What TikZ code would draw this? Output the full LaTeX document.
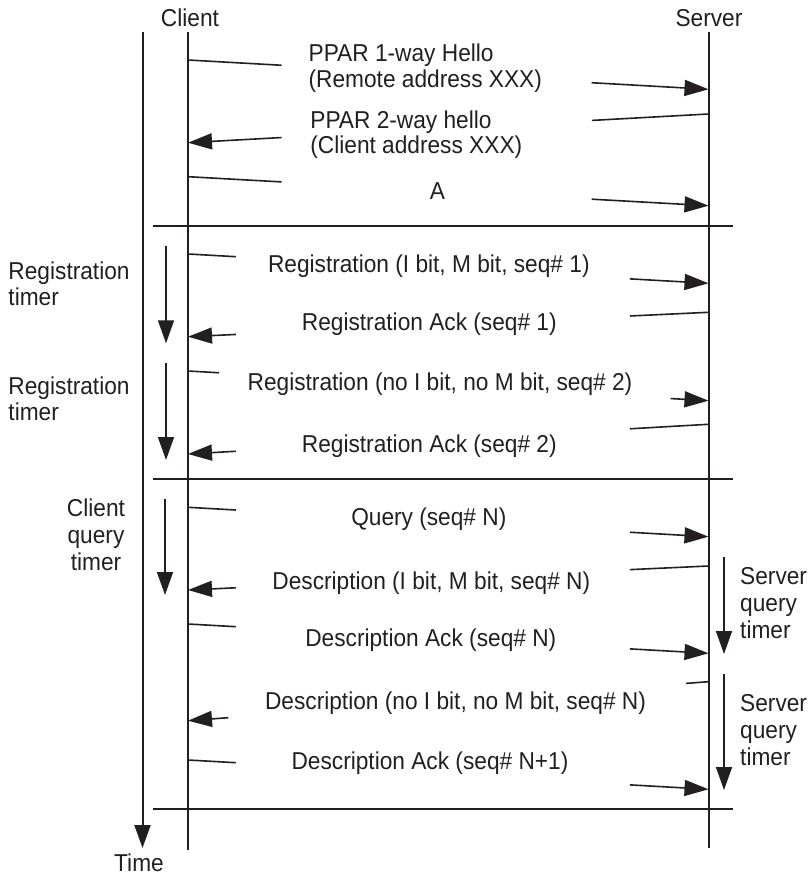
\documentclass[tikz,border=0pt]{standalone}
\usepackage{fontspec}
\setmainfont{Liberation Sans}[FakeStretch=0.93]
\usetikzlibrary{arrows.meta,calc}

\definecolor{ink}{HTML}{231F20}

% one message: a sloped line between two lifeline points, broken where its text sits
\newcommand\msgarrow[4]{%
  \draw[msg] (#1) -- ($(#1)!#3!(#2)$);
  \draw[msg,-{Triangle[length=24pt,width=16pt]}] ($(#1)!#4!(#2)$) -- (#2);
}

\tikzset{
  lbl/.style={inner sep=0pt, text=ink, font=\fontsize{24.4}{25.7}\selectfont},
  lifeline/.style={draw=ink, line width=2pt},
  sepline/.style={draw=ink, line width=2pt},
  msg/.style={draw=ink, line width=1.6pt},
  timer/.style={draw=ink, line width=1.6pt, -{Triangle[length=23pt,width=16pt]}},
}

\begin{document}
\begin{tikzpicture}[x=1pt,y=-1pt]
\useasboundingbox (0,0) rectangle (810,877);

% ---- headers and lifelines ----
% (multi-line labels below are placed by the baseline of their last line)
\node[lbl, anchor=base] (client) at (190,26.7) {Client};
\node[lbl, anchor=base] (server) at (709,26.7) {Server};
\node[lbl, anchor=base] (time)   at (139,871) {Time};

\coordinate (timeTop) at (142.5,32);  \coordinate (timeEnd) at (142.5,848);
\coordinate (cliTop)  at (188,32);    \coordinate (cliBot)  at (188,850);
\coordinate (srvTop)  at (708.5,32);  \coordinate (srvBot)  at (708.5,848);

\draw[timer, line width=2pt] (timeTop) -- (timeEnd);
\draw[lifeline] (cliTop) -- (cliBot);
\draw[lifeline] (srvTop) -- (srvBot);

% ---- phase separators ----
\coordinate (sepAl) at (152.7,225.7); \coordinate (sepAr) at (733.3,225.7);
\coordinate (sepBl) at (152.7,478.5); \coordinate (sepBr) at (733.3,478.5);
\coordinate (sepCl) at (152.7,809);   \coordinate (sepCr) at (733.3,809);
\draw[sepline] (sepAl) -- (sepAr);
\draw[sepline] (sepBl) -- (sepBr);
\draw[sepline] (sepCl) -- (sepCr);

% ---- hello exchange ----
\coordinate (h1c) at (188,60);      \coordinate (h1s) at (708.5,89.3);
\coordinate (h2s) at (708.5,114);   \coordinate (h2c) at (188,142.7);
\coordinate (h3c) at (188,176.7);   \coordinate (h3s) at (708.5,205.7);
\msgarrow{h1c}{h1s}{0.18}{0.7756}
\msgarrow{h2s}{h2c}{0.224}{0.82}
\msgarrow{h3c}{h3s}{0.18}{0.7756}
\node[lbl, anchor=base, align=left] (hello1) at (425.3,87.3) {PPAR 1-way Hello\\(Remote address XXX)};
\node[lbl, anchor=base, align=left] (hello2) at (416.3,154) {PPAR 2-way hello\\(Client address XXX)};
\node[lbl, anchor=base] (hello3) at (437.5,200) {A};

% ---- registration ----
\coordinate (r1c) at (188,254);     \coordinate (r1s) at (708.5,283.3);
\coordinate (r2s) at (708.5,312.3); \coordinate (r2c) at (188,336.7);
\coordinate (r3c) at (188,371);     \coordinate (r3s) at (708.5,400.7);
\coordinate (r4s) at (708.5,424.3); \coordinate (r4c) at (188,454);
\msgarrow{r1c}{r1s}{0.0922}{0.849}
\msgarrow{r2s}{r2c}{0.151}{0.908}
\msgarrow{r3c}{r3s}{0.0596}{0.927}
\msgarrow{r4s}{r4c}{0.151}{0.908}
\node[lbl, anchor=base] (reg1) at (428.8,272.7) {Registration (I bit, M bit, seq\# 1)};
\node[lbl, anchor=base] (reg2) at (429.3,330.7) {Registration Ack (seq\# 1)};
\node[lbl, anchor=base] (reg3) at (440,390.7)   {Registration (no I bit, no M bit, seq\# 2)};
\node[lbl, anchor=base] (reg4) at (429.3,452.3) {Registration Ack (seq\# 2)};

\coordinate (rt1a) at (166,246);   \coordinate (rt1b) at (166,343.3);
\coordinate (rt2a) at (166,362.7); \coordinate (rt2b) at (166,460);
\draw[timer] (rt1a) -- (rt1b);
\draw[timer] (rt2a) -- (rt2b);
\node[lbl, anchor=base west, align=left] (regtimer1) at (8.3,305) {Registration\\timer};
\node[lbl, anchor=base west, align=left] (regtimer2) at (8.3,420) {Registration\\timer};

% ---- query and descriptions ----
\coordinate (q1c) at (188,507.3);   \coordinate (q1s) at (708.5,536.7);
\coordinate (d1s) at (708.5,566);   \coordinate (d1c) at (188,590);
\coordinate (d2c) at (188,624);     \coordinate (d2s) at (708.5,653.3);
\coordinate (d3s) at (708.5,681.7); \coordinate (d3c) at (188,720.7);
\coordinate (d4c) at (188,760);     \coordinate (d4s) at (708.5,789.3);
\msgarrow{q1c}{q1s}{0.0922}{0.849}
\msgarrow{d1s}{d1c}{0.151}{0.908}
\msgarrow{d2c}{d2s}{0.0922}{0.849}
\msgarrow{d3s}{d3c}{0.0432}{0.9226}
\msgarrow{d4c}{d4s}{0.0922}{0.849}
\node[lbl, anchor=base] (query) at (428.8,525.7) {Query (seq\# N)};
\node[lbl, anchor=base] (desc1) at (431.3,589.3) {Description (I bit, M bit, seq\# N)};
\node[lbl, anchor=base] (desc2) at (430.8,646.7) {Description Ack (seq\# N)};
\node[lbl, anchor=base] (desc3) at (455.5,709)   {Description (no I bit, no M bit, seq\# N)};
\node[lbl, anchor=base] (desc4) at (430,769)     {Description Ack (seq\# N+1)};

\coordinate (ct1a) at (165,499.3); \coordinate (ct1b) at (165,595);
\draw[timer] (ct1a) -- (ct1b);
\node[lbl, anchor=base, align=center, font=\fontsize{24.4}{27}\selectfont] (clitimer) at (96,570) {Client\\query\\timer};

\coordinate (st1a) at (724,557.3); \coordinate (st1b) at (724,654);
\coordinate (st2a) at (724,674);   \coordinate (st2b) at (724,790);
\draw[timer] (st1a) -- (st1b);
\draw[timer] (st2a) -- (st2b);
\node[lbl, anchor=base west, align=left, font=\fontsize{24.4}{27}\selectfont] (srvtimer1) at (740,638) {Server\\query\\timer};
\node[lbl, anchor=base west, align=left, font=\fontsize{24.4}{27}\selectfont] (srvtimer2) at (740,765) {Server\\query\\timer};
\end{tikzpicture}
\end{document}
